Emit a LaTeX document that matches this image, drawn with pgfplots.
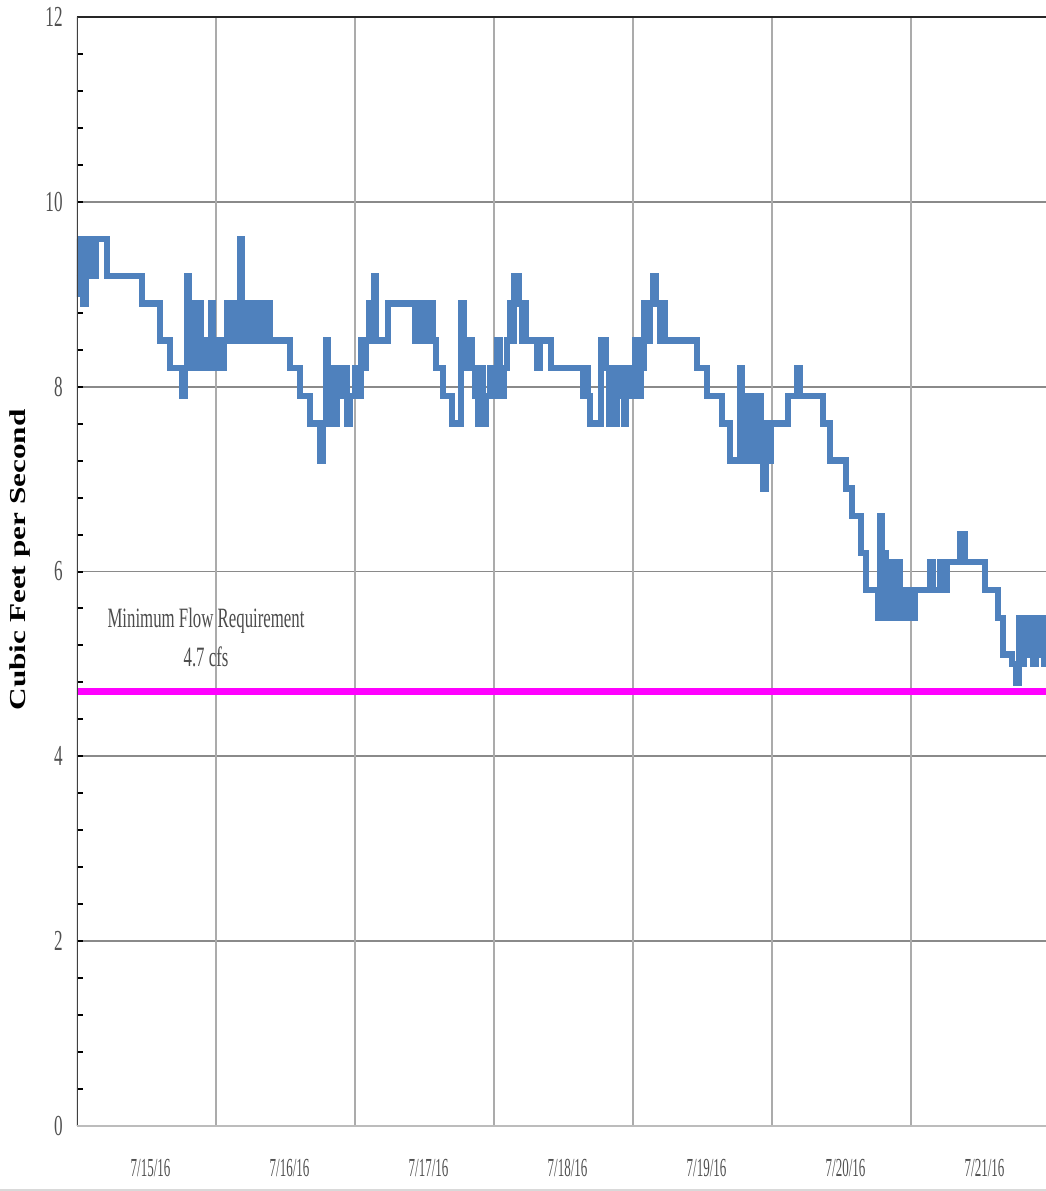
\documentclass[border=0pt]{standalone}
\usepackage{fontspec}
\setmainfont{Liberation Serif}
\usepackage{graphicx}
\usepackage{pgfplots}
\pgfplotsset{compat=1.18}
\definecolor{flow}{HTML}{4F81BD}
\definecolor{mfr}{HTML}{FF00FF}
\definecolor{hgrid}{HTML}{8A8A8A}
\definecolor{vgrid}{HTML}{ABABAB}
\definecolor{tl}{HTML}{505050}
\newcommand\nx[1]{\scalebox{0.5}[1]{#1}}
\newcommand\ny[1]{\scalebox{0.59}[1]{#1}}
\pgfplotstableread{
x y
0 9.6
2 9.0
4 9.6
6 8.9
9 9.2
12 9.6
16 9.2
19 9.6
30 9.2
65 8.9
83 8.5
93 8.2
105 7.9
108 8.2
110 9.2
112 8.2
114 8.9
116 8.2
118 8.5
120 8.2
122 8.9
124 8.2
126 8.5
129 8.2
132 8.5
134 8.9
136 8.2
139 8.5
143 8.2
147 8.5
150 8.9
152 8.5
155 8.9
158 8.5
161 8.9
163 9.6
165 8.5
168 8.9
170 8.5
173 8.9
175 8.5
178 8.9
180 8.5
182 8.9
185 8.5
187 8.9
193 8.5
213 8.2
223 7.9
233 7.6
243 7.2
246 7.6
249 8.5
251 7.9
253 7.6
255 8.2
257 7.6
260 7.9
262 8.2
265 7.9
267 8.2
270 7.6
273 7.9
278 8.2
281 7.9
284 8.5
286 8.2
289 8.5
292 8.9
295 8.5
297 9.2
299 8.5
311 8.9
338 8.5
340 8.9
342 8.5
344 8.9
346 8.5
349 8.9
351 8.5
354 8.9
356 8.5
359 8.2
366 7.9
375 7.6
384 8.9
387 8.2
389 8.5
395 8.2
398 7.9
401 7.6
404 8.2
406 7.6
409 7.9
413 8.2
416 7.9
420 8.5
423 7.9
427 8.2
430 8.5
433 8.9
435 8.5
437 9.2
442 8.9
445 8.5
447 8.9
449 8.5
460 8.2
463 8.5
474 8.2
506 7.9
509 8.2
511 7.9
513 7.6
524 8.5
529 8.2
532 7.6
534 8.2
536 7.9
538 7.6
540 8.2
543 7.9
545 8.2
547 7.6
549 8.2
552 7.9
555 8.2
558 8.5
561 7.9
564 8.2
567 8.9
570 8.5
573 8.9
576 9.2
579 8.9
583 8.5
585 8.9
588 8.5
620 8.2
630 7.9
645 7.6
653 7.2
663 8.2
665 7.2
668 7.9
670 7.2
672 7.6
674 7.9
676 7.2
678 7.9
680 7.2
682 7.9
684 7.6
686 6.9
689 7.6
691 7.2
694 7.6
711 7.9
720 8.2
723 7.9
746 7.6
753 7.2
769 6.9
775 6.6
784 6.2
789 5.8
801 5.5
803 6.6
805 5.8
807 6.2
809 5.5
811 6.1
813 5.8
815 5.5
817 6.1
819 5.8
821 6.1
823 5.5
826 5.8
829 5.5
832 5.8
835 5.5
838 5.8
853 6.1
856 5.8
863 6.1
867 5.8
870 6.1
883 6.4
888 6.1
908 5.8
921 5.5
926 5.1
935 5.0
939 4.8
942 5.5
944 5.0
947 5.5
950 5.1
953 5.5
956 5.0
959 5.5
962 5.1
965 5.5
967 5.0
969 5.0
}\flowdata
\begin{document}
\begin{tikzpicture}
\useasboundingbox (-38.5pt,-32.5pt) rectangle (484.5pt,563pt);
\begin{axis}[
  at={(0,0)}, anchor=south west,
  scale only axis, width=484.5pt, height=554.5pt,
  xmin=0, xmax=969, ymin=0, ymax=12,
  axis line style={draw=none},
  xtick={73.5,212.5,351.5,490.5,629.5,768.5,907.5},
  xticklabels={\nx{7/15/16},\nx{7/16/16},\nx{7/17/16},\nx{7/18/16},\nx{7/19/16},\nx{7/20/16},\nx{7/21/16}},
  xtick style={draw=none},
  xticklabel style={font=\fontsize{13}{13}\selectfont, text=tl, anchor=center, yshift=-21pt},
  extra x ticks={139,278,417,556,695,834},
  extra x tick labels={},
  extra x tick style={grid=major, major grid style={draw=vgrid, line width=1.1pt},
    tick style={draw=vgrid, line width=1.1pt}, tick align=outside, major tick length=4pt},
  ytick={0,2,4,6,8,10,12},
  yticklabels={\ny{0},\ny{2},\ny{4},\ny{6},\ny{8},\ny{10},\ny{12}},
  minor y tick num=4,
  ytick pos=left,
  tick align=inside,
  ytick style={draw=black, line width=1pt},
  major tick length=3pt, minor tick length=3pt,
  ymajorgrids, major grid style={draw=hgrid, line width=0.9pt},
  yticklabel style={font=\fontsize{14.5}{14.5}\selectfont, text=tl, anchor=east, inner sep=0pt, xshift=-7pt},
  clip=true,
]
\addplot[mfr, line width=3.5pt] coordinates {(0,4.7) (969,4.7)};
\addplot[flow, line width=3.2pt, const plot] table[x=x, y=y] {\flowdata};
\node[font=\fontsize{14}{14}\selectfont, text=black!70] at (axis cs:129,5.47) {\scalebox{0.6}[1]{Minimum Flow Requirement}};
\node[font=\fontsize{14}{14}\selectfont, text=black!70] at (axis cs:129,5.08) {\scalebox{0.6}[1]{4.7 cfs}};
\draw[black!85, line width=1.5pt] (rel axis cs:0,1) -- (rel axis cs:1,1);
\draw[black!75, line width=1pt] (rel axis cs:0,0) -- (rel axis cs:0,1);
\draw[vgrid!80, line width=1pt] (rel axis cs:0,0) -- (rel axis cs:1,0);
\end{axis}
\node[rotate=90, anchor=center, inner sep=0pt, font=\fontsize{11.4}{12}\selectfont\bfseries] at (-28.5pt,283pt) {\scalebox{1.37}[1]{Cubic Feet per Second}};
\draw[black!15, line width=0.8pt] (-38.5pt,-32pt) -- (484.5pt,-32pt);
\end{tikzpicture}
\end{document}
